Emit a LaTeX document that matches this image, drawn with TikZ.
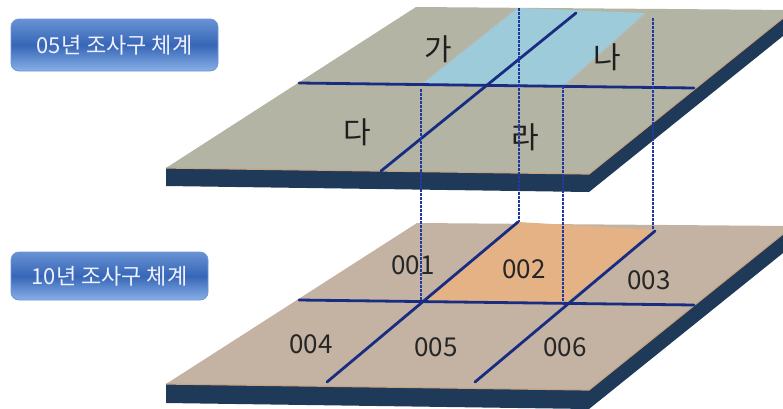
\documentclass[tikz,border=0pt]{standalone}
\usepackage{fontspec}
\newfontfamily\kfont{Noto Sans CJK KR}
\usetikzlibrary{calc}

\definecolor{topsurf}{RGB}{179,180,164}
\definecolor{botsurf}{RGB}{196,179,163}
\definecolor{sidenavy}{RGB}{31,57,89}
\definecolor{rimtan}{RGB}{196,164,132}
\definecolor{gridblue}{RGB}{24,44,130}
\definecolor{dashblue}{RGB}{34,58,160}
\definecolor{cellblue}{RGB}{158,203,218}
\definecolor{cellorange}{RGB}{229,178,134}
\definecolor{badgetop}{RGB}{104,146,212}
\definecolor{badgemid}{RGB}{54,102,182}
\definecolor{badgebot}{RGB}{136,176,232}
\definecolor{badgerim}{RGB}{110,150,214}

\tikzset{
  plateside/.style={fill=sidenavy},
  platerim/.style={draw=rimtan, line width=1.2pt, line join=round},
  gridline/.style={draw=gridblue, line width=2.8pt, line cap=round},
  projline/.style={draw=dashblue, line width=1.1pt, dash pattern=on 2.5pt off 1.5pt},
  ghostline/.style={draw=gray!55, line width=1pt, dash pattern=on 2pt off 1.5pt},
  badge/.style={rounded corners=8pt, draw=badgerim, line width=0.8pt,
    top color=badgetop, bottom color=badgebot, middle color=badgemid,
    text=white!94!blue, inner sep=0pt, minimum height=52pt,
    font=\kfont\fontsize{22}{26}\selectfont},
  cellko/.style={text=black!88, font=\kfont\fontsize{30}{33}\selectfont},
  cellno/.style={text=black!85, font=\kfont\fontsize{26}{30}\selectfont}
}

\begin{document}
\begin{tikzpicture}[x=1pt,y=-1pt]
\useasboundingbox (0,0) rectangle (783,408);
\clip (0,0) rectangle (783,408);

% ---------- 2005 plate ----------
\coordinate (tBL) at (416,7);
\coordinate (tBR) at (793,10);
\coordinate (tFR) at (589,174);
\coordinate (tFL) at (166,168);
\fill[plateside] (tFL) -- (tFR) -- (tBR) -- ($(tBR)+(0,18)$) -- ($(tFR)+(0,18)$) -- ($(tFL)+(0,18)$) -- cycle;
\fill[topsurf] (tBL) -- (tBR) -- (tFR) -- (tFL) -- cycle;
\draw[platerim] (tFL) -- (tFR) -- (tBR);

% highlighted 2010 cell seen on the 2005 grid
\fill[cellblue] (421,85) -- (518,8) -- (645,13) -- (564,86) -- cycle;
\coordinate (tG1a) at (415,89);
\coordinate (tG1b) at (517,8);
\coordinate (tG2a) at (560,89);
\coordinate (tG2b) at (646,14);
\draw[ghostline] (tG1a) -- (tG1b);
\draw[ghostline] (tG2a) -- (tG2b);

% 2005 grid
\coordinate (tH1) at (299,83);
\coordinate (tH2) at (694,88);
\coordinate (tD1) at (576,13);
\coordinate (tD2) at (381,171);
\draw[gridline] (tH1) -- (tH2);
\draw[gridline] (tD1) -- (tD2);

\node[cellko] (lga) at (438,49) {가};
\node[cellko] (lna) at (607,57) {나};
\node[cellko] (lda) at (357,132) {다};
\node[cellko] (lra) at (525,137) {라};

% ---------- 2010 plate ----------
\coordinate (bBL) at (417,223);
\coordinate (bBR) at (793,226);
\coordinate (bFR) at (589,390);
\coordinate (bFL) at (166,384);
\fill[plateside] (bFL) -- (bFR) -- (bBR) -- ($(bBR)+(0,19)$) -- ($(bFR)+(0,19)$) -- ($(bFL)+(0,19)$) -- cycle;
\fill[botsurf] (bBL) -- (bBR) -- (bFR) -- (bFL) -- cycle;
\draw[platerim] (bFL) -- (bFR) -- (bBR);

\fill[cellorange] (422,301) -- (518,222) -- (655,230) -- (565,303) -- cycle;

\coordinate (bH1) at (299,300);
\coordinate (bH2) at (694,305);
\coordinate (bD1a) at (518,222);
\coordinate (bD1b) at (327,382);
\coordinate (bD2a) at (655,231);
\coordinate (bD2b) at (475,382);
\draw[gridline] (bH1) -- (bH2);
\draw[gridline] (bD1a) -- (bD1b);
\draw[gridline] (bD2a) -- (bD2b);

\node[cellno] (n001) at (413,265) {001};
\node[cellno] (n002) at (524,269) {002};
\node[cellno] (n003) at (649,280) {003};
\node[cellno] (n004) at (311,344) {004};
\node[cellno] (n005) at (436,347) {005};
\node[cellno] (n006) at (565,347) {006};

% ---------- projection lines between the plates ----------
\coordinate (v1t) at (421,89);  \coordinate (v1b) at (421,301);
\coordinate (v2t) at (519,8);   \coordinate (v2b) at (519,222);
\coordinate (v3t) at (563,86);  \coordinate (v3b) at (563,303);
\coordinate (v4t) at (653,18);  \coordinate (v4b) at (653,230);
\draw[projline] (v1t) -- (v1b);
\draw[projline] (v2t) -- (v2b);
\draw[projline] (v3t) -- (v3b);
\draw[projline] (v4t) -- (v4b);

% ---------- year badges ----------
\node[badge, minimum width=207pt] (y05) at (114.5,45) {05년 조사구 체계};
\node[badge, minimum width=197pt, minimum height=48pt] (y10) at (109.5,276) {10년 조사구 체계};
\end{tikzpicture}
\end{document}
